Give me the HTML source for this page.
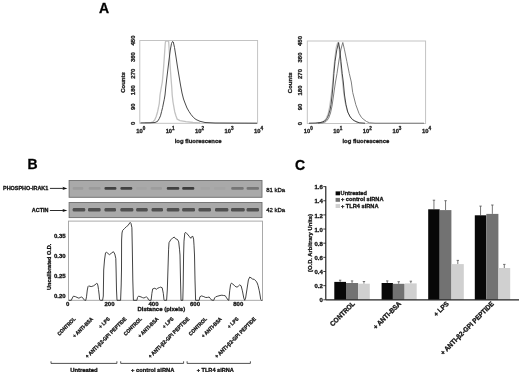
<!DOCTYPE html>
<html><head><meta charset="utf-8"><style>
html,body{margin:0;padding:0;background:#fff;}
svg{display:block;font-family:"Liberation Sans",sans-serif;will-change:transform;filter:blur(0.3px);}
text{stroke:#111;stroke-width:0.3px;paint-order:stroke;}
</style></head><body>
<svg width="520" height="372" viewBox="0 0 520 372">
<rect width="520" height="372" fill="#fff"/>
<text x="99" y="12.9" font-size="14" font-weight="bold" text-anchor="start" fill="#000">A</text>
<rect x="139.8" y="40.5" width="117.80000000000001" height="82.8" fill="none" stroke="#c0c0c0" stroke-width="0.95"/>
<text x="134.7" y="123.3" font-size="6.0" font-weight="bold" text-anchor="middle" fill="#222" transform="rotate(-90 134.7 123.3)">0</text>
<text x="134.7" y="106.74" font-size="6.0" font-weight="bold" text-anchor="middle" fill="#222" transform="rotate(-90 134.7 106.74)">90</text>
<text x="134.7" y="90.18" font-size="6.0" font-weight="bold" text-anchor="middle" fill="#222" transform="rotate(-90 134.7 90.18)">180</text>
<text x="134.7" y="73.62" font-size="6.0" font-weight="bold" text-anchor="middle" fill="#222" transform="rotate(-90 134.7 73.62)">270</text>
<text x="134.7" y="57.06" font-size="6.0" font-weight="bold" text-anchor="middle" fill="#222" transform="rotate(-90 134.7 57.06)">360</text>
<text x="134.7" y="40.5" font-size="6.0" font-weight="bold" text-anchor="middle" fill="#222" transform="rotate(-90 134.7 40.5)">450</text>
<text x="125.1" y="82.5" font-size="6.0" font-weight="bold" text-anchor="middle" fill="#222" transform="rotate(-90 125.1 82.5)">Counts</text>
<text x="140.70000000000002" y="132.5" font-size="5.8" font-weight="bold" text-anchor="middle" fill="#222">10<tspan dy="-3.0" font-size="4.6">0</tspan></text>
<text x="170.15" y="132.5" font-size="5.8" font-weight="bold" text-anchor="middle" fill="#222">10<tspan dy="-3.0" font-size="4.6">1</tspan></text>
<text x="199.60000000000002" y="132.5" font-size="5.8" font-weight="bold" text-anchor="middle" fill="#222">10<tspan dy="-3.0" font-size="4.6">2</tspan></text>
<text x="229.05000000000004" y="132.5" font-size="5.8" font-weight="bold" text-anchor="middle" fill="#222">10<tspan dy="-3.0" font-size="4.6">3</tspan></text>
<text x="258.5" y="132.5" font-size="5.8" font-weight="bold" text-anchor="middle" fill="#222">10<tspan dy="-3.0" font-size="4.6">4</tspan></text>
<text x="198.10000000000002" y="142.8" font-size="5.9" font-weight="bold" text-anchor="middle" fill="#222">log fluorescence</text>
<path d="M145,123 L150,122.8 L153,121.8 L154.7,120 L156.2,116.5 L157.6,111.7 L158.5,107.5 L159.3,103.3 L160,95 L161,89 L162.3,82 L163.4,70 L164.4,56 L165.2,44 L165.6,41 L168.6,41 L169.2,50 L170,64 L171,78 L171.8,88 L172.2,95 L173,102 L174.7,111.7 L176,116 L177.2,119.2 L180,120.6 L186,121.7 L193,122.5 L200,123" fill="none" stroke="#c2c2c2" stroke-width="1.3" stroke-linejoin="round"/>
<path d="M140.5,122.9 L150,122.8 L155,122.5 L157,121.6 L158,120.8 L159.3,118.5 L160.5,115.8 L161.6,111.5 L162.6,107.5 L163.5,103 L164.3,99.2 L165,95 L165.8,87 L166.6,80 L167.8,70 L169,60 L170.3,50 L171.5,43.5 L172.5,41.5 L173.3,42 L174.5,47.5 L176,57 L177.5,67 L179,76 L180.5,85 L182,93 L183.5,99 L185,103 L187,108 L189,111.5 L191,114.5 L193.5,117.5 L196,119.5 L200,121.3 L205,122.5 L215,123 L257,123.2" fill="none" stroke="#333" stroke-width="0.9" stroke-linejoin="round"/>
<rect x="307.3" y="41" width="118.30000000000001" height="82.5" fill="none" stroke="#c0c0c0" stroke-width="0.95"/>
<text x="302.3" y="123.5" font-size="6.0" font-weight="bold" text-anchor="middle" fill="#222" transform="rotate(-90 302.3 123.5)">0</text>
<text x="302.3" y="107.0" font-size="6.0" font-weight="bold" text-anchor="middle" fill="#222" transform="rotate(-90 302.3 107.0)">90</text>
<text x="302.3" y="90.5" font-size="6.0" font-weight="bold" text-anchor="middle" fill="#222" transform="rotate(-90 302.3 90.5)">180</text>
<text x="302.3" y="74.0" font-size="6.0" font-weight="bold" text-anchor="middle" fill="#222" transform="rotate(-90 302.3 74.0)">270</text>
<text x="302.3" y="57.5" font-size="6.0" font-weight="bold" text-anchor="middle" fill="#222" transform="rotate(-90 302.3 57.5)">360</text>
<text x="302.3" y="41.0" font-size="6.0" font-weight="bold" text-anchor="middle" fill="#222" transform="rotate(-90 302.3 41.0)">450</text>
<text x="292" y="82.85" font-size="6.0" font-weight="bold" text-anchor="middle" fill="#222" transform="rotate(-90 292 82.85)">Counts</text>
<text x="308.2" y="132.5" font-size="5.8" font-weight="bold" text-anchor="middle" fill="#222">10<tspan dy="-3.0" font-size="4.6">0</tspan></text>
<text x="337.775" y="132.5" font-size="5.8" font-weight="bold" text-anchor="middle" fill="#222">10<tspan dy="-3.0" font-size="4.6">1</tspan></text>
<text x="367.35" y="132.5" font-size="5.8" font-weight="bold" text-anchor="middle" fill="#222">10<tspan dy="-3.0" font-size="4.6">2</tspan></text>
<text x="396.925" y="132.5" font-size="5.8" font-weight="bold" text-anchor="middle" fill="#222">10<tspan dy="-3.0" font-size="4.6">3</tspan></text>
<text x="426.5" y="132.5" font-size="5.8" font-weight="bold" text-anchor="middle" fill="#222">10<tspan dy="-3.0" font-size="4.6">4</tspan></text>
<text x="365.85" y="142.8" font-size="5.9" font-weight="bold" text-anchor="middle" fill="#222">log fluorescence</text>
<path d="M316,123.2 L321,122.5 L324,121 L326,118.5 L328,114 L329.5,107 L330.8,98 L332,88 L332.8,80 L333.6,70 L334.8,58 L336.2,47 L337.6,42.5 L338.8,47 L340,58 L341.2,70 L342.3,80 L343.5,92 L345,102 L347,110 L349.5,116 L352.5,119.8 L356,121.8 L360,122.9" fill="none" stroke="#bdbdbd" stroke-width="1.0" stroke-linejoin="round"/>
<path d="M318,123.2 L323,122.8 L326,121.5 L328.5,118.5 L330.5,113 L332,106 L333.2,98 L334.3,90 L335.5,82 L337,73.5 L339,60 L341,49 L342.8,42.5 L344.5,49.8 L346.9,61.7 L349.3,73.5 L351.3,82 L352.7,92.4 L355.8,104.7 L359,113.4 L361.5,117.5 L363.9,119.6 L366.5,121.5 L369.5,122.8 L375,123.2 L424,123.2" fill="none" stroke="#707070" stroke-width="0.9" stroke-linejoin="round"/>
<path d="M309,123.2 L316,123 L320,122.6 L322.4,122 L324.5,121 L326.1,119.8 L327.5,117.5 L328.6,114.7 L330,110 L331,104.7 L332,96 L332.8,88 L333.3,82 L333.9,73.5 L335,61.7 L336.8,49.8 L338.6,42.5 L339.8,49.8 L341,61.7 L342.2,73.5 L343.3,82 L344.5,95 L346,104.7 L347.8,112.2 L350.3,117 L352.5,119.5 L354.6,120.8 L357,122 L359.6,122.8 L365,123.2" fill="none" stroke="#333" stroke-width="0.9" stroke-linejoin="round"/>
<text x="27.6" y="168.9" font-size="14" font-weight="bold" text-anchor="start" fill="#000">B</text>
<text x="3" y="190.4" font-size="5.45" font-weight="bold" text-anchor="start" fill="#111">PHOSPHO-IRAK1</text>
<text x="31.8" y="211.7" font-size="5.45" font-weight="bold" text-anchor="start" fill="#111">ACTIN</text>
<line x1="49.9" y1="188.4" x2="64.4" y2="188.4" stroke="#222" stroke-width="0.95"/>
<path d="M62.400000000000006,186.8 L63.400000000000006,188.4 L62.400000000000006,190.0 L67.4,188.4 Z" fill="#111"/>
<line x1="49.9" y1="210.5" x2="64.4" y2="210.5" stroke="#222" stroke-width="0.95"/>
<path d="M62.400000000000006,208.9 L63.400000000000006,210.5 L62.400000000000006,212.1 L67.4,210.5 Z" fill="#111"/>
<rect x="69.1" y="180.5" width="192.9" height="16.8" fill="#a9a9a9" stroke="#6e6e6e" stroke-width="0.9"/>
<rect x="69.1" y="202.5" width="192.9" height="15.1" fill="#a9a9a9" stroke="#6e6e6e" stroke-width="0.9"/>
<rect x="72.7" y="187.0" width="10.599999999999994" height="2.8" rx="1.1" fill="#222" opacity="0.09"/>
<rect x="88.7" y="187.0" width="11.899999999999991" height="2.8" rx="1.1" fill="#222" opacity="0.10"/>
<rect x="104.5" y="187.0" width="11.900000000000006" height="2.8" rx="1.1" fill="#222" opacity="0.77"/>
<rect x="120.4" y="187.0" width="11.900000000000006" height="2.8" rx="1.1" fill="#222" opacity="0.77"/>
<rect x="136.2" y="187.0" width="10.600000000000023" height="2.8" rx="1.1" fill="#222" opacity="0.03"/>
<rect x="150.6" y="187.0" width="11.400000000000006" height="2.8" rx="1.1" fill="#222" opacity="0.09"/>
<rect x="166.8" y="187.0" width="12.5" height="2.8" rx="1.1" fill="#222" opacity="0.77"/>
<rect x="182.2" y="187.0" width="12.100000000000023" height="2.8" rx="1.1" fill="#222" opacity="0.81"/>
<rect x="200.5" y="187.0" width="9.5" height="2.8" rx="1.1" fill="#222" opacity="0.03"/>
<rect x="214" y="187.0" width="11.5" height="2.8" rx="1.1" fill="#222" opacity="0.03"/>
<rect x="231.2" y="187.0" width="12.5" height="2.8" rx="1.1" fill="#222" opacity="0.38"/>
<rect x="246.6" y="187.0" width="12.400000000000006" height="2.8" rx="1.1" fill="#222" opacity="0.38"/>
<rect x="72.7" y="208.1" width="12.5" height="3.3" rx="1.2" fill="#3a3a3a" opacity="0.8"/>
<rect x="88" y="208.1" width="12.599999999999994" height="3.3" rx="1.2" fill="#3a3a3a" opacity="0.8"/>
<rect x="104.5" y="208.1" width="11.5" height="3.3" rx="1.2" fill="#3a3a3a" opacity="0.8"/>
<rect x="120.4" y="208.1" width="12.900000000000006" height="3.3" rx="1.2" fill="#3a3a3a" opacity="0.8"/>
<rect x="136.2" y="208.1" width="11.5" height="3.3" rx="1.2" fill="#3a3a3a" opacity="0.8"/>
<rect x="151.6" y="208.1" width="11.400000000000006" height="3.3" rx="1.2" fill="#3a3a3a" opacity="0.8"/>
<rect x="166.8" y="208.1" width="12.5" height="3.3" rx="1.2" fill="#3a3a3a" opacity="0.8"/>
<rect x="182.2" y="208.1" width="12.800000000000011" height="3.3" rx="1.2" fill="#3a3a3a" opacity="0.8"/>
<rect x="198.5" y="208.1" width="12.5" height="3.3" rx="1.2" fill="#3a3a3a" opacity="0.8"/>
<rect x="215" y="208.1" width="13.300000000000011" height="3.3" rx="1.2" fill="#3a3a3a" opacity="0.8"/>
<rect x="231" y="208.1" width="13.699999999999989" height="3.3" rx="1.2" fill="#3a3a3a" opacity="0.8"/>
<rect x="246.6" y="208.1" width="12.400000000000006" height="3.3" rx="1.2" fill="#3a3a3a" opacity="0.8"/>
<text x="266.2" y="191.8" font-size="6.0" font-weight="normal" text-anchor="start" fill="#111">81 kDa</text>
<text x="266.2" y="211.7" font-size="6.0" font-weight="normal" text-anchor="start" fill="#111">42 kDa</text>
<rect x="68.5" y="221.1" width="194" height="79.2" fill="#fff" stroke="#a0a0a0" stroke-width="0.9"/>
<text x="65.6" y="238.4" font-size="6.0" font-weight="bold" text-anchor="end" fill="#111">0.35</text>
<text x="65.6" y="258.1" font-size="6.0" font-weight="bold" text-anchor="end" fill="#111">0.30</text>
<text x="65.6" y="277.6" font-size="6.0" font-weight="bold" text-anchor="end" fill="#111">0.25</text>
<text x="65.6" y="297.70000000000005" font-size="6.0" font-weight="bold" text-anchor="end" fill="#111">0.20</text>
<text x="51.4" y="266.8" font-size="5.5" font-weight="bold" text-anchor="middle" fill="#111" transform="rotate(-90 51.4 266.8)">Uncalibrated O.D.</text>
<text x="67.6" y="305.6" font-size="6.0" font-weight="bold" text-anchor="middle" fill="#111">0</text>
<text x="109.5" y="305.6" font-size="6.0" font-weight="bold" text-anchor="middle" fill="#111">200</text>
<text x="153.5" y="305.6" font-size="6.0" font-weight="bold" text-anchor="middle" fill="#111">400</text>
<text x="195" y="305.6" font-size="6.0" font-weight="bold" text-anchor="middle" fill="#111">600</text>
<text x="238.3" y="305.6" font-size="6.0" font-weight="bold" text-anchor="middle" fill="#111">800</text>
<text x="161.3" y="310.6" font-size="6.0" font-weight="bold" text-anchor="middle" fill="#111">Distance (pixels)</text>
<path d="M68.8,300.3 L71.3,300.3 L72.3,298 L73.4,296.2 L75.3,296.6 L77,297.4 L78.9,298.2 L80.2,297.5 L81.4,297 L82.5,297.5 L83.5,299 L84.7,300.3 L85.8,300.3 L86.5,296.8 L87.3,290 L88,286.6 L88.7,285.9 L90,286.3 L91.2,286.6 L93.4,285.9 L95,284.8 L96.7,283.4 L97.4,283.7 L98,286 L98.5,289.5 L99.2,295 L99.6,299.7 L100.7,300.3 L102.6,300.3 L103.3,296 L103.7,270 L104.5,260 L105.5,253 L106.4,252.1 L107.9,253.4 L109.4,254.7 L111.4,253.2 L113.4,251.7 L114.8,254 L115.8,258.4 L116.1,270 L116.5,290 L117,300.3 L120.6,300.3 L121.2,285 L121.5,270 L121.6,240 L122,233 L122.6,230.5 L124.5,228.5 L126.6,226.5 L127.8,225.7 L129,224 L130.2,222.4 L131,223.5 L131.9,227.7 L132.3,248 L132.8,280 L133.4,300.3 L136.9,300.3 L137.5,297.5 L138.2,296.4 L138.8,296.2 L141,296.9 L142.5,297.6 L143.9,298 L145.3,297.3 L146.4,296.9 L147.5,297.7 L148.6,299.9 L149,300.3 L151.1,300.3 L151.6,296 L151.9,293.3 L152.7,288.9 L154.9,288.2 L156.3,289.3 L157.8,288.2 L159.5,287.5 L160.7,287.1 L162.2,287.8 L163.3,293.3 L164,299.9 L164.3,300.3 L166.6,300.3 L167.3,290 L168.1,265 L168.6,249.2 L169,242.7 L170.7,239.9 L172.7,237.9 L174.3,237.1 L175.5,238.7 L177.5,239.5 L178.7,241.9 L179.5,249.2 L180,255 L180.5,280 L181,300.3 L182.8,300.3 L183.2,285 L183.6,255 L184,241.1 L184.8,233.1 L185.6,232.3 L187.2,233.9 L189.2,236.3 L190.8,238.3 L191.2,237.1 L192.8,236.3 L193.6,239.1 L194,245.2 L194.5,255 L195,280 L195.6,300.3 L199.2,300.3 L199.9,296.8 L201.4,295.9 L203.2,296.4 L205.8,297.5 L207.6,297.4 L209.1,297 L210.2,298.3 L211.6,300.1 L213.8,300.3 L214.6,297.9 L215.7,296.8 L217.9,296.1 L220,295.5 L221.9,295.2 L223.7,295.5 L225.2,295.7 L226.6,297.9 L228.1,300.1 L228.8,300.3 L229.7,290.8 L230.6,284.4 L231.5,283.1 L232.8,284 L235.1,286.3 L237,287.2 L238.5,286 L239.7,284.9 L241.1,285.8 L242.4,290.8 L243.8,298.1 L244.7,300.3 L245.6,298.1 L247,289 L248.4,279.9 L249.7,277.1 L251,277.8 L252.5,279 L254.3,279.4 L256.1,281.2 L257.2,283 L258,285.4 L259.3,290.8 L260.2,296 L260.7,299.5 L261.5,300.3 L262.3,300.3" fill="none" stroke="#222" stroke-width="0.85" stroke-linejoin="round"/>
<text x="0" y="0" font-size="5.25" font-weight="bold" text-anchor="end" fill="#111" transform="translate(76.00 319.3) rotate(-45) scale(0.905 1)">CONTROL</text>
<text x="0" y="0" font-size="5.25" font-weight="bold" text-anchor="end" fill="#111" transform="translate(93.50 319.3) rotate(-45) scale(0.905 1)">+ ANTI-BSA</text>
<text x="0" y="0" font-size="5.25" font-weight="bold" text-anchor="end" fill="#111" transform="translate(110.20 319.3) rotate(-45) scale(0.905 1)">+ LPS</text>
<text x="0" y="0" font-size="5.45" font-weight="bold" text-anchor="end" fill="#111" transform="translate(126.90 319.3) rotate(-45) scale(0.908 1)">+ ANTI-β2-GPI PEPTIDE</text>
<text x="0" y="0" font-size="5.25" font-weight="bold" text-anchor="end" fill="#111" transform="translate(142.30 319.3) rotate(-45) scale(0.905 1)">CONTROL</text>
<text x="0" y="0" font-size="5.25" font-weight="bold" text-anchor="end" fill="#111" transform="translate(158.90 319.3) rotate(-45) scale(0.905 1)">+ ANTI-BSA</text>
<text x="0" y="0" font-size="5.25" font-weight="bold" text-anchor="end" fill="#111" transform="translate(173.90 319.3) rotate(-45) scale(0.905 1)">+ LPS</text>
<text x="0" y="0" font-size="5.45" font-weight="bold" text-anchor="end" fill="#111" transform="translate(189.80 319.3) rotate(-45) scale(0.908 1)">+ ANTI-β2-GPI PEPTIDE</text>
<text x="0" y="0" font-size="5.25" font-weight="bold" text-anchor="end" fill="#111" transform="translate(207.30 319.3) rotate(-45) scale(0.905 1)">CONTROL</text>
<text x="0" y="0" font-size="5.25" font-weight="bold" text-anchor="end" fill="#111" transform="translate(222.30 319.3) rotate(-45) scale(0.905 1)">+ ANTI-BSA</text>
<text x="0" y="0" font-size="5.25" font-weight="bold" text-anchor="end" fill="#111" transform="translate(238.90 319.3) rotate(-45) scale(0.905 1)">+ LPS</text>
<text x="0" y="0" font-size="5.45" font-weight="bold" text-anchor="end" fill="#111" transform="translate(256.40 319.3) rotate(-45) scale(0.908 1)">+ ANTI-β2-GPI PEPTIDE</text>
<path d="M51,361.3 L51,363.4 L116.9,363.4 L116.9,361.3" fill="none" stroke="#333" stroke-width="0.85"/>
<path d="M120.7,361.3 L120.7,363.4 L183.6,363.4 L183.6,361.3" fill="none" stroke="#333" stroke-width="0.85"/>
<path d="M187.1,361.3 L187.1,363.4 L250.4,363.4 L250.4,361.3" fill="none" stroke="#333" stroke-width="0.85"/>
<text x="83.9" y="371.9" font-size="5.9" font-weight="bold" text-anchor="middle" fill="#111">Untreated</text>
<text x="152.7" y="371.9" font-size="5.75" font-weight="bold" text-anchor="middle" fill="#111">+ control siRNA</text>
<text x="215.3" y="371.9" font-size="5.6" font-weight="bold" text-anchor="middle" fill="#111">+ TLR4 siRNA</text>
<text x="295.0" y="169.6" font-size="14" font-weight="bold" text-anchor="start" fill="#000">C</text>
<line x1="325.8" y1="186.2" x2="325.8" y2="299.8" stroke="#111" stroke-width="1.1"/>
<line x1="323.3" y1="299.8" x2="325.8" y2="299.8" stroke="#111" stroke-width="0.8"/>
<text x="322.8" y="302.40000000000003" font-size="6.0" font-weight="bold" text-anchor="end" fill="#111">0</text>
<line x1="323.3" y1="285.65000000000003" x2="325.8" y2="285.65000000000003" stroke="#111" stroke-width="0.8"/>
<text x="322.8" y="288.25000000000006" font-size="6.0" font-weight="bold" text-anchor="end" fill="#111">0.2</text>
<line x1="323.3" y1="271.5" x2="325.8" y2="271.5" stroke="#111" stroke-width="0.8"/>
<text x="322.8" y="274.1" font-size="6.0" font-weight="bold" text-anchor="end" fill="#111">0.4</text>
<line x1="323.3" y1="257.35" x2="325.8" y2="257.35" stroke="#111" stroke-width="0.8"/>
<text x="322.8" y="259.95000000000005" font-size="6.0" font-weight="bold" text-anchor="end" fill="#111">0.6</text>
<line x1="323.3" y1="243.20000000000002" x2="325.8" y2="243.20000000000002" stroke="#111" stroke-width="0.8"/>
<text x="322.8" y="245.8" font-size="6.0" font-weight="bold" text-anchor="end" fill="#111">0.8</text>
<line x1="323.3" y1="229.05" x2="325.8" y2="229.05" stroke="#111" stroke-width="0.8"/>
<text x="322.8" y="231.65" font-size="6.0" font-weight="bold" text-anchor="end" fill="#111">1.0</text>
<line x1="323.3" y1="214.9" x2="325.8" y2="214.9" stroke="#111" stroke-width="0.8"/>
<text x="322.8" y="217.5" font-size="6.0" font-weight="bold" text-anchor="end" fill="#111">1.2</text>
<line x1="323.3" y1="200.75" x2="325.8" y2="200.75" stroke="#111" stroke-width="0.8"/>
<text x="322.8" y="203.35" font-size="6.0" font-weight="bold" text-anchor="end" fill="#111">1.4</text>
<line x1="323.3" y1="186.60000000000002" x2="325.8" y2="186.60000000000002" stroke="#111" stroke-width="0.8"/>
<text x="322.8" y="189.20000000000002" font-size="6.0" font-weight="bold" text-anchor="end" fill="#111">1.6</text>
<text x="312" y="243" font-size="5.8" font-weight="bold" text-anchor="middle" fill="#111" transform="rotate(-90 312 243)">(O.D. Arbitrary Units)</text>
<line x1="340.15" y1="280.2" x2="340.15" y2="281.9" stroke="#555" stroke-width="0.8"/>
<line x1="338.95" y1="280.2" x2="341.34999999999997" y2="280.2" stroke="#555" stroke-width="0.8"/>
<rect x="334.3" y="281.9" width="11.699999999999989" height="17.900000000000034" fill="#080808"/>
<line x1="352.05" y1="280.9" x2="352.05" y2="283" stroke="#555" stroke-width="0.8"/>
<line x1="350.85" y1="280.9" x2="353.25" y2="280.9" stroke="#555" stroke-width="0.8"/>
<rect x="346" y="283" width="12.100000000000023" height="16.80000000000001" fill="#727272"/>
<line x1="363.95000000000005" y1="281.5" x2="363.95000000000005" y2="283.7" stroke="#555" stroke-width="0.8"/>
<line x1="362.75000000000006" y1="281.5" x2="365.15000000000003" y2="281.5" stroke="#555" stroke-width="0.8"/>
<rect x="358.1" y="283.7" width="11.699999999999989" height="16.100000000000023" fill="#d0d0d0"/>
<line x1="387.25" y1="280.9" x2="387.25" y2="283" stroke="#555" stroke-width="0.8"/>
<line x1="386.05" y1="280.9" x2="388.45" y2="280.9" stroke="#555" stroke-width="0.8"/>
<rect x="381.6" y="283" width="11.299999999999955" height="16.80000000000001" fill="#080808"/>
<line x1="398.7" y1="281.7" x2="398.7" y2="283.8" stroke="#555" stroke-width="0.8"/>
<line x1="397.5" y1="281.7" x2="399.9" y2="281.7" stroke="#555" stroke-width="0.8"/>
<rect x="392.9" y="283.8" width="11.600000000000023" height="16.0" fill="#727272"/>
<line x1="410.85" y1="281.2" x2="410.85" y2="283.4" stroke="#555" stroke-width="0.8"/>
<line x1="409.65000000000003" y1="281.2" x2="412.05" y2="281.2" stroke="#555" stroke-width="0.8"/>
<rect x="405" y="283.4" width="11.699999999999989" height="16.400000000000034" fill="#d0d0d0"/>
<line x1="433.95" y1="200.2" x2="433.95" y2="209.3" stroke="#555" stroke-width="0.8"/>
<line x1="432.75" y1="200.2" x2="435.15" y2="200.2" stroke="#555" stroke-width="0.8"/>
<rect x="428.2" y="209.3" width="11.5" height="90.5" fill="#080808"/>
<line x1="445.54999999999995" y1="200.7" x2="445.54999999999995" y2="210.1" stroke="#555" stroke-width="0.8"/>
<line x1="444.34999999999997" y1="200.7" x2="446.74999999999994" y2="200.7" stroke="#555" stroke-width="0.8"/>
<rect x="439.7" y="210.1" width="11.699999999999989" height="89.70000000000002" fill="#727272"/>
<line x1="457.8" y1="260.4" x2="457.8" y2="264.1" stroke="#555" stroke-width="0.8"/>
<line x1="456.6" y1="260.4" x2="459.0" y2="260.4" stroke="#555" stroke-width="0.8"/>
<rect x="451.8" y="264.1" width="12.0" height="35.69999999999999" fill="#d0d0d0"/>
<line x1="480.55" y1="206.1" x2="480.55" y2="215.3" stroke="#555" stroke-width="0.8"/>
<line x1="479.35" y1="206.1" x2="481.75" y2="206.1" stroke="#555" stroke-width="0.8"/>
<rect x="474.8" y="215.3" width="11.5" height="84.5" fill="#080808"/>
<line x1="492.35" y1="205" x2="492.35" y2="213.9" stroke="#555" stroke-width="0.8"/>
<line x1="491.15000000000003" y1="205" x2="493.55" y2="205" stroke="#555" stroke-width="0.8"/>
<rect x="486.3" y="213.9" width="12.099999999999966" height="85.9" fill="#727272"/>
<line x1="504.29999999999995" y1="264.4" x2="504.29999999999995" y2="268" stroke="#555" stroke-width="0.8"/>
<line x1="503.09999999999997" y1="264.4" x2="505.49999999999994" y2="264.4" stroke="#555" stroke-width="0.8"/>
<rect x="498.4" y="268" width="11.800000000000011" height="31.80000000000001" fill="#d0d0d0"/>
<line x1="325.8" y1="299.95" x2="519" y2="299.95" stroke="#222" stroke-width="1.3"/>
<rect x="335.6" y="191.4" width="4.4" height="3.9" fill="#080808"/>
<rect x="335.6" y="197.9" width="4.4" height="3.9" fill="#727272"/>
<rect x="335.6" y="204.1" width="4.4" height="3.9" fill="#d0d0d0"/>
<text x="340.6" y="195.2" font-size="5.65" font-weight="bold" text-anchor="start" fill="#111">Untreated</text>
<text x="341" y="201.4" font-size="5.65" font-weight="bold" text-anchor="start" fill="#111">+ control siRNA</text>
<text x="341" y="207.9" font-size="5.65" font-weight="bold" text-anchor="start" fill="#111">+ TLR4 siRNA</text>
<text x="0" y="0" font-size="6.9" font-weight="bold" text-anchor="end" fill="#111" transform="translate(355.30 304.2) rotate(-45) scale(0.935 1)">CONTROL</text>
<text x="0" y="0" font-size="6.9" font-weight="bold" text-anchor="end" fill="#111" transform="translate(401.50 304.2) rotate(-45) scale(0.935 1)">+ ANTI-BSA</text>
<text x="0" y="0" font-size="6.9" font-weight="bold" text-anchor="end" fill="#111" transform="translate(449.20 304.2) rotate(-45) scale(0.935 1)">+ LPS</text>
<text x="0" y="0" font-size="6.9" font-weight="bold" text-anchor="end" fill="#111" transform="translate(494.40 304.2) rotate(-45) scale(0.935 1)">+ ANTI-β2-GPI PEPTIDE</text>
</svg>
</body></html>
